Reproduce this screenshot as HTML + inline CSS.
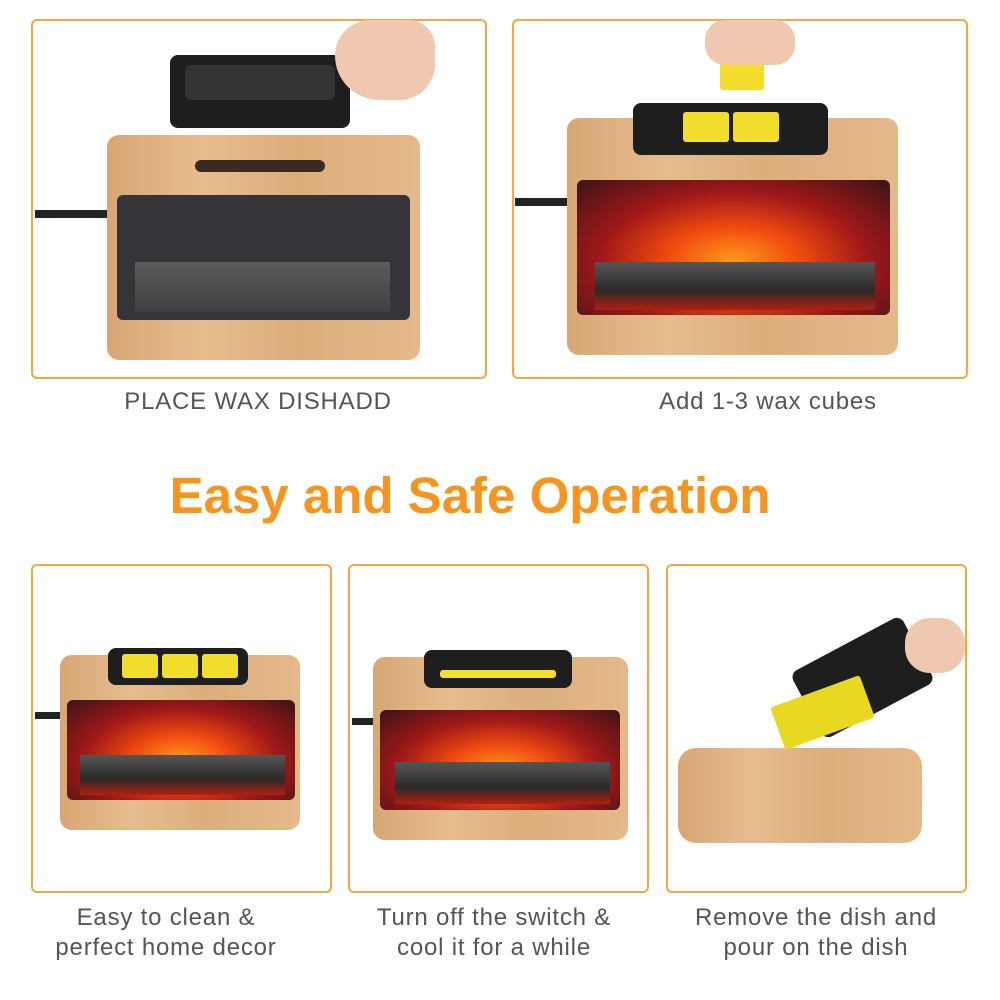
<!DOCTYPE html>
<html><head><meta charset="utf-8"><style>
body{margin:0;width:1000px;height:1000px;background:#fff;position:relative;overflow:hidden;font-family:"Liberation Sans",sans-serif}
.a{position:absolute}
.p{position:absolute;border:2px solid #f5a742;border-radius:6px;box-sizing:border-box}
.wood{position:absolute;background:linear-gradient(90deg,#d8a675,#e6bd8e 30%,#dcae7c 60%,#e4b98a);border-radius:12px}
.scr{position:absolute;background:#34343a;border-radius:6px}
.fire{position:absolute;border-radius:6px;background:radial-gradient(ellipse at 50% 60%,#ff9a1a 0%,#f04a10 30%,#a01818 60%,#3a1418 100%)}
.logs{position:absolute;background:linear-gradient(#555 0,#2a2a2a 60%,#b02010 100%)}
.dish{position:absolute;background:#1e1e1e;border-radius:8px}
.wax{position:absolute;background:#f2de2a;border-radius:3px}
.cap{position:absolute;color:#555;font-size:24px;letter-spacing:0.8px;text-align:center;line-height:30px;white-space:nowrap}
</style></head><body>
<div class="p" style="left:31px;top:19px;width:456px;height:360px"></div>
<div class="p" style="left:512px;top:19px;width:456px;height:360px"></div>
<div class="p" style="left:31px;top:564px;width:301px;height:329px"></div>
<div class="p" style="left:348px;top:564px;width:301px;height:329px"></div>
<div class="p" style="left:666px;top:564px;width:301px;height:329px"></div>

<!-- panel 1 -->
<div class="a" style="left:35px;top:210px;width:75px;height:8px;background:#222"></div>
<div class="wood" style="left:107px;top:135px;width:313px;height:225px"></div>
<div class="a" style="left:195px;top:160px;width:130px;height:12px;background:#3a2a20;border-radius:6px"></div>
<div class="scr" style="left:117px;top:195px;width:293px;height:125px"></div>
<div class="logs" style="left:135px;top:262px;width:255px;height:50px;background:linear-gradient(#666,#444);opacity:.8"></div>
<div class="dish" style="left:170px;top:55px;width:180px;height:73px"></div>
<div class="a" style="left:185px;top:65px;width:150px;height:35px;background:#333;border-radius:6px"></div>
<div class="a" style="left:335px;top:20px;width:100px;height:80px;background:#f0c8b0;border-radius:40px 30px 40px 50px"></div>
<!-- panel 2 -->
<div class="a" style="left:515px;top:198px;width:58px;height:8px;background:#222"></div>
<div class="wood" style="left:567px;top:118px;width:331px;height:237px"></div>
<div class="fire" style="left:577px;top:180px;width:313px;height:135px"></div>
<div class="logs" style="left:595px;top:262px;width:280px;height:48px"></div>
<div class="dish" style="left:633px;top:103px;width:195px;height:52px"></div>
<div class="wax" style="left:683px;top:112px;width:46px;height:30px"></div>
<div class="wax" style="left:733px;top:112px;width:46px;height:30px"></div>
<div class="wax" style="left:720px;top:50px;width:44px;height:40px"></div>
<div class="a" style="left:705px;top:20px;width:90px;height:45px;background:#f0c8b0;border-radius:20px"></div>

<div class="cap" style="left:58px;top:387px;width:400px">PLACE WAX DISHADD</div>
<div class="cap" style="left:598px;top:387px;width:340px">Add 1-3 wax cubes</div>
<div class="a" style="left:0;top:466px;width:940px;text-align:center;color:#f7941d;font-weight:bold;font-size:51px;line-height:60px">Easy and Safe Operation</div>

<!-- bottom 1 -->
<div class="a" style="left:35px;top:712px;width:30px;height:7px;background:#222"></div>
<div class="wood" style="left:60px;top:655px;width:240px;height:175px"></div>
<div class="fire" style="left:67px;top:700px;width:228px;height:100px"></div>
<div class="logs" style="left:80px;top:755px;width:205px;height:40px"></div>
<div class="dish" style="left:108px;top:648px;width:140px;height:37px"></div>
<div class="wax" style="left:122px;top:654px;width:36px;height:24px"></div>
<div class="wax" style="left:162px;top:654px;width:36px;height:24px"></div>
<div class="wax" style="left:202px;top:654px;width:36px;height:24px"></div>
<!-- bottom 2 -->
<div class="a" style="left:352px;top:718px;width:25px;height:7px;background:#222"></div>
<div class="wood" style="left:373px;top:657px;width:255px;height:183px"></div>
<div class="fire" style="left:380px;top:710px;width:240px;height:100px"></div>
<div class="logs" style="left:395px;top:762px;width:215px;height:42px"></div>
<div class="dish" style="left:424px;top:650px;width:148px;height:38px"></div>
<div class="wax" style="left:440px;top:670px;width:116px;height:8px"></div>
<!-- bottom 3 -->
<div class="wood" style="left:678px;top:748px;width:244px;height:95px;border-radius:18px"></div>
<div class="a" style="left:800px;top:640px;width:125px;height:75px;background:#1e1e1e;border-radius:8px;transform:rotate(-28deg)"></div>
<div class="wax" style="left:775px;top:690px;width:95px;height:45px;transform:rotate(-20deg);background:#e8d820"></div>
<div class="a" style="left:905px;top:618px;width:60px;height:55px;background:#f0c8b0;border-radius:25px"></div>

<div class="cap" style="left:31px;top:903px;width:270px">Easy to clean &amp;<br>perfect home decor</div>
<div class="cap" style="left:348px;top:903px;width:292px">Turn off the switch &amp;<br>cool it for a while</div>
<div class="cap" style="left:666px;top:903px;width:300px">Remove the dish and<br>pour on the dish</div>
</body></html>
